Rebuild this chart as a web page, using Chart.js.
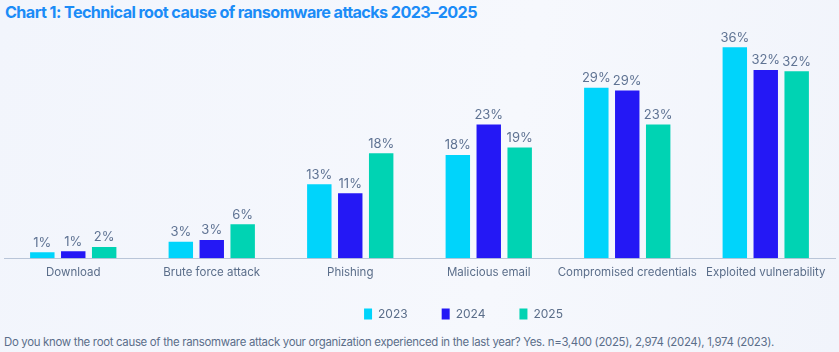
<!DOCTYPE html>
<html>
<head>
<meta charset="utf-8">
<script src="https://cdn.jsdelivr.net/npm/chart.js@4"></script>
<style>
  html, body { margin: 0; padding: 0; }
  body {
    width: 839px; height: 352px; overflow: hidden; position: relative;
    background: linear-gradient(100deg, #f2f5fc 0%, #f6f8fd 60%, #f1f4fb 100%);
    font-family: Inter, "Noto Sans", sans-serif;
  }
  #title {
    position: absolute; left: 5px; top: 2px;
    font-size: 16.2px; font-weight: 700; color: #1b8cf7; letter-spacing: -0.6px;
  }
  #wrap { position: absolute; left: 0; top: 22px; width: 839px; height: 308px; }
  #note {
    position: absolute; left: 4px; top: 335px;
    font-size: 11.4px; color: #5b6e8a; letter-spacing: -0.3px;
  }
</style>
</head>
<body>
<div id="title">Chart 1: Technical root cause of ransomware attacks 2023–2025</div>
<div id="wrap"><canvas id="chart"></canvas></div>
<div id="note">Do you know the root cause of the ransomware attack your organization experienced in the last year? Yes. n=3,400 (2025), 2,974 (2024), 1,974 (2023).</div>
<script>
/* Root cause of ransomware attacks — grouped bars by year */

const categories = ['Download', 'Brute force attack', 'Phishing', 'Malicious email', 'Compromised credentials', 'Exploited vulnerability'];
const years = ['2023', '2024', '2025'];
const values2023 = [1.0, 2.8, 12.6, 17.6, 29.1, 36.0];
const values2024 = [1.2, 3.1, 11.1, 22.8, 28.6, 32.1];
const values2025 = [1.9, 5.8, 17.9, 18.9, 22.8, 31.9];
const yearColors = ['#00d4fb', '#2418f5', '#00d3b3'];

const FONT = 'Inter, "Noto Sans", sans-serif';

const valueLabels = {
    id: 'valueLabels',
    afterDatasetsDraw(chart) {
        const ctx = chart.ctx;
        ctx.save();
        ctx.font = '13px ' + FONT;
        ctx.fillStyle = '#5f7393';
        ctx.textAlign = 'center';
        ctx.textBaseline = 'bottom';
        chart.data.datasets.forEach((ds, i) => {
            chart.getDatasetMeta(i).data.forEach((bar, j) => {
                ctx.fillText(Math.round(ds.data[j]) + '%', bar.x, bar.y - 3);
            });
        });
        ctx.restore();
    }
};

// legend: wide gaps between items but a short box, sitting a bit right of centre
const LEGEND_TRIM = 24;
const legendPlace = {
    id: 'legendPlace',
    beforeLayout(chart) {
        const lg = chart.legend;
        if (lg && !lg._trimmed) {
            const fit = lg.fit;
            lg.fit = function () { fit.call(this); this.height -= LEGEND_TRIM; };
            lg._trimmed = true;
        }
    },
    afterLayout(chart) {
        const lg = chart.legend;
        lg.top -= LEGEND_TRIM;
        lg.left += 44;
        lg.right += 44;
    }
};

new Chart(document.getElementById('chart').getContext('2d'), {
    type: 'bar',
    data: {
        labels: categories,
        datasets: [values2023, values2024, values2025].map((vals, i) => ({
            label: years[i],
            data: vals,
            backgroundColor: yearColors[i],
            borderWidth: 0,
            barPercentage: 0.79,
            categoryPercentage: 0.67,
        })),
    },
    options: {
        responsive: true,
        maintainAspectRatio: false,
        animation: false,
        layout: { padding: { left: 4, right: 4, top: 0, bottom: 0 } },
        plugins: {
            legend: {
                position: 'bottom',
                labels: {
                    color: '#5b6e8a',
                    font: { size: 12, family: FONT },
                    boxWidth: 8,
                    boxHeight: 11,
                    padding: 34,
                },
            },
            tooltip: { enabled: false },
        },
        scales: {
            x: {
                grid: { display: false, drawTicks: false },
                border: { color: '#b9c5d8', width: 1 },
                ticks: {
                    color: '#5b6e8a',
                    font: { size: 11.5, family: FONT },
                    padding: 7,
                    maxRotation: 0,
                    autoSkip: false,
                },
                afterFit(scale) { scale.height += 12; },
            },
            y: {
                display: false,
                min: 0,
                max: 40.3,
            },
        },
    },
    plugins: [valueLabels, legendPlace],
});
</script>
</body>
</html>
